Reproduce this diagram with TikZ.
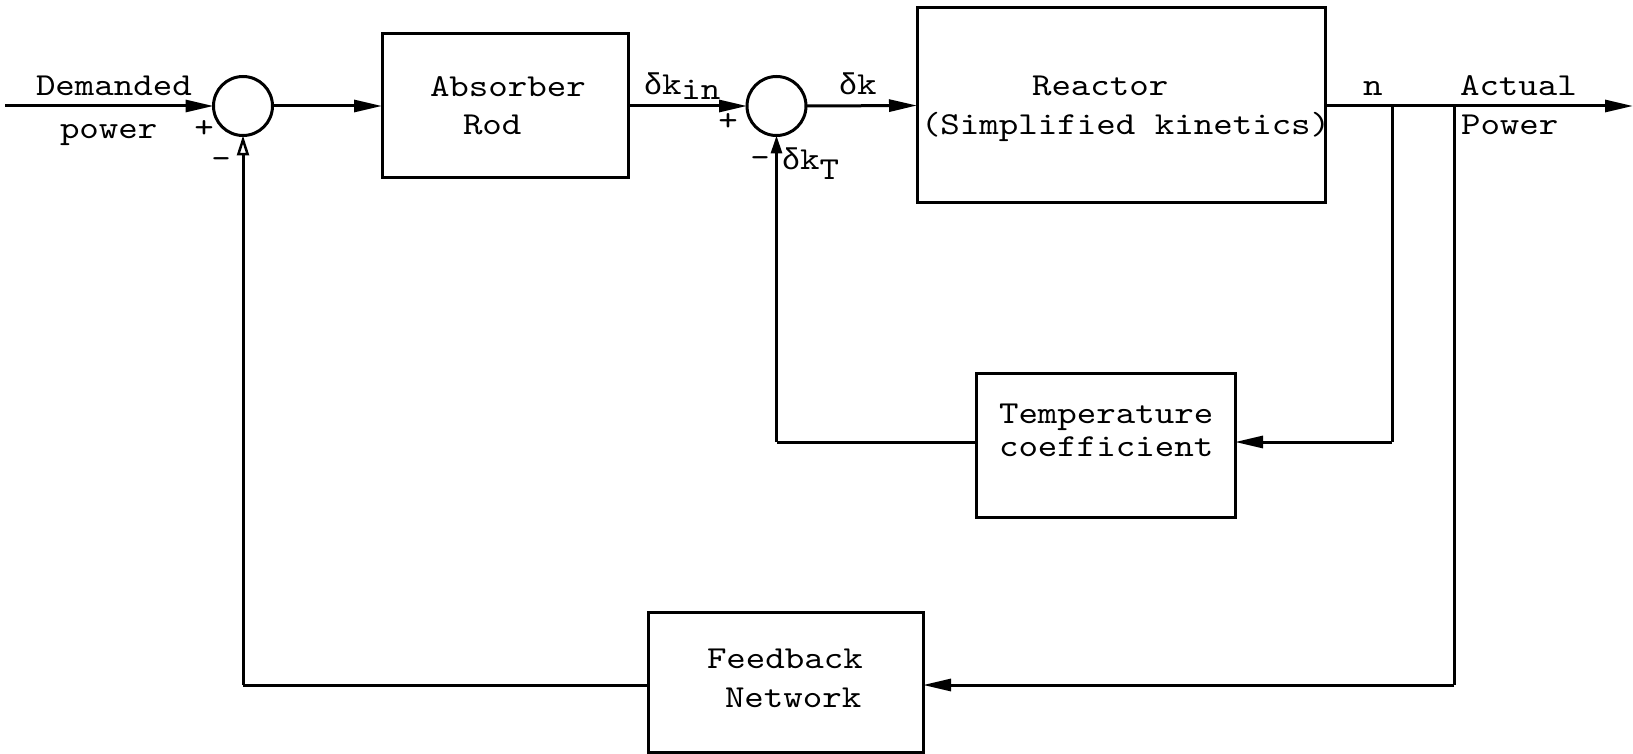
\documentclass[tikz,border=0pt]{standalone}
\usepackage{fontspec}
\setmonofont{lmmono10-regular}[Extension=.otf, FakeStretch=1.16]
\newfontfamily\grk{Liberation Mono}
\usetikzlibrary{arrows.meta}
\newcommand{\dlt}{{\grk\fontsize{30}{38}\selectfont δ}}
\begin{document}
\begin{tikzpicture}[x=1pt,y=-1pt,
  every node/.style={font=\ttfamily\fontsize{32}{40}\selectfont, inner sep=0pt, outer sep=0pt},
  blk/.style={draw, line width=3pt},
  sumc/.style={circle, draw, line width=3pt, minimum size=59pt},
  conn/.style={line width=3pt},
  arr/.style={conn, -{Triangle[length=28pt,width=12pt]}},
  oarr/.style={conn, -{Triangle[open,length=20pt,width=12pt,line width=2.5pt]}},
  lbl/.style={anchor=base west}]
\useasboundingbox (0,0) rectangle (1633,754);

% blocks
\node[blk, minimum width=246pt, minimum height=144pt] (abs) at (505,106) {};
\node[blk, minimum width=408pt, minimum height=195pt] (rea) at (1121,105.5) {};
\node[blk, minimum width=259pt, minimum height=144pt] (tmp) at (1105.5,445) {};
\node[blk, minimum width=275pt, minimum height=140pt] (fb) at (785.5,682) {};
\node[sumc] (s1) at (243,106) {};
\node[sumc] (s2) at (776.5,106) {};

% helper coordinates
\coordinate (in) at (5,106);
\coordinate (out) at (1633,106);
\coordinate (tapn) at (1392,106);
\coordinate (tapp) at (1454,106);
\coordinate (tn) at (1392,442);
\coordinate (tp) at (1454,685);
\coordinate (t2) at (776.5,442);
\coordinate (t1) at (243,685);

% texts
\node[lbl] (tdem) at (36,96) {Demanded};
\node[lbl] (tpow) at (60,139) {power};
\node (tp1) at (204,129) {+};
\node (tm1) at (221,163) {-};
\node[lbl] (tab1) at (430,97) {Absorber};
\node[lbl] (tab2) at (463,135) {Rod};
\node[lbl] (tkin) at (644,95) {\dlt k\raisebox{-5pt}{in}};
\node (tp2) at (728,122) {+};
\node (tm2) at (760,162) {-};
\node[lbl] (tkt) at (782,170) {\dlt k\raisebox{-10pt}{T}};
\node[lbl] (tdk) at (839,95) {\dlt k};
\node[lbl] (tre1) at (1032,96) {Reactor};
\node[lbl] (tre2) at (921,135) {(Simplified kinetics)};
\node[lbl] (tn1) at (1363,96) {n};
\node[lbl] (tact) at (1460,96) {Actual};
\node[lbl] (tpw) at (1461,135) {Power};
\node[lbl] (tte1) at (999,423) {Temperature};
\node[lbl] (tte2) at (999,456) {coefficient};
\node[lbl] (tfb1) at (707,668) {Feedback};
\node[lbl] (tfb2) at (725,707) {Network};

% connectors
\draw[arr] (in) -- (s1.west);
\draw[arr] (s1.east) -- (abs.west);
\draw[arr] (abs.east) -- (s2.west);
\draw[arr] (s2.east) -- (rea.west);
\draw[arr] (rea.east |- out) -- (out);
\draw[conn] (tapn) -- (tn);
\draw[arr] (tn) -- (tmp.east |- tn);
\draw[conn] (tmp.west |- t2) -- (t2);
\draw[conn, -{Triangle[length=18pt,width=11pt]}] (t2) -- (s2.south);
\draw[conn] (tapp) -- (tp);
\draw[arr] (tp) -- (fb.east |- tp);
\draw[conn] (fb.west |- t1) -- (t1);
\draw[oarr] (t1) -- (s1.south);
\end{tikzpicture}
\end{document}
